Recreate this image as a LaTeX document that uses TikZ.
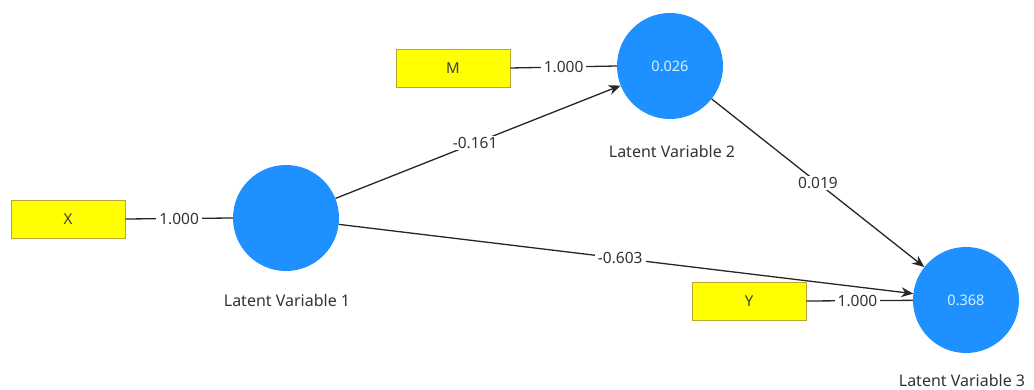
\documentclass[tikz,border=0pt]{standalone}
\usepackage{fontspec}
\setmainfont{Noto Sans}
\usetikzlibrary{arrows.meta}
\definecolor{lvblue}{HTML}{1E90FF}
\definecolor{indyellow}{HTML}{FFFF00}
\definecolor{indborder}{HTML}{B8A830}
\definecolor{edgecol}{HTML}{262626}
\definecolor{rsq}{HTML}{D8F2FF}
\begin{document}
\begin{tikzpicture}[x=1pt,y=-1pt,
  lv/.style={circle,fill=lvblue,minimum size=106pt,inner sep=0pt,text=rsq,font=\fontsize{14.5}{16}\selectfont},
  ind/.style={rectangle,fill=indyellow,draw=indborder,line width=0.8pt,minimum width=114pt,minimum height=38pt,inner sep=0pt,text=black!75,font=\fontsize{15}{17}\selectfont},
  lvlabel/.style={font=\fontsize{16}{18}\selectfont,text=black!80},
  path/.style={draw=edgecol,line width=1.3pt,-{Stealth[length=12pt,width=10pt]}},
  load/.style={draw=edgecol,line width=1.3pt},
  coef/.style={fill=white,inner xsep=3pt,inner ysep=1.5pt,font=\fontsize{15.5}{18}\selectfont,text=black!80}]
\useasboundingbox (0,0) rectangle (1034,390);
\node[ind] (X) at (68,219) {X};
\node[ind] (M) at (453,68) {M};
\node[ind] (Y) at (749,301) {Y};
\node[lv] (L1) at (286,218) {};
\node[lv] (L2) at (670,66) {0.026};
\node[lv] (L3) at (966,300) {0.368};
\node[lvlabel] (t1) at (287,300) {Latent Variable 1};
\node[lvlabel] (t2) at (672,152) {Latent Variable 2};
\node[lvlabel] (t3) at (962,380) {Latent Variable 3};
\draw[load] (X.east) -- node[coef]{1.000} (L1.west);
\draw[load] (M.east) -- node[coef]{1.000} (L2.west);
\draw[load] (Y.east) -- node[coef,pos=0.48]{1.000} (L3);
\draw[path] (L1) -- node[coef,pos=0.49]{-0.161} (L2);
\draw[path] (L1) -- node[coef,pos=0.49]{-0.603} (L3);
\draw[path] (L2) -- node[coef,pos=0.5]{0.019} (L3);
\end{tikzpicture}
\end{document}
